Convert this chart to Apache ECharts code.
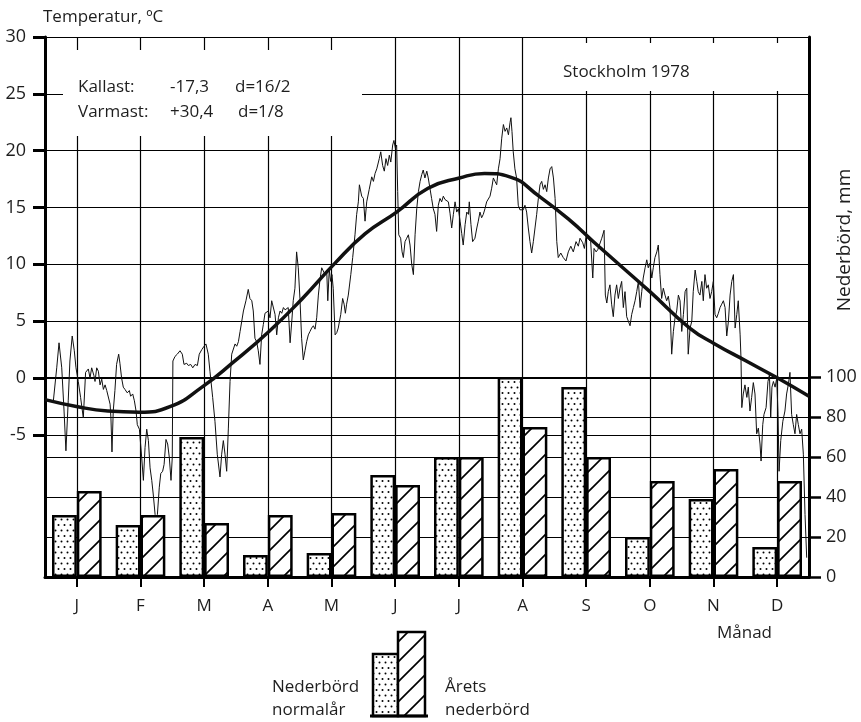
<!DOCTYPE html>
<html>
<head>
<meta charset="utf-8">
<script src="https://cdn.jsdelivr.net/npm/echarts@6/dist/echarts.min.js"></script>
<style>
html,body{margin:0;padding:0;background:#fff}
#chart{width:861px;height:722px}
</style>
</head>
<body>
<div id="chart"></div>
<script>
// månader och nederbörd (mm)
const manader = ['J','F','M','A','M','J','J','A','S','O','N','D'];
const normalNederbord = [31, 26, 70, 11, 12, 51, 60, 100, 95, 20, 39, 15];
const aretsNederbord = [43, 31, 27, 31, 32, 46, 60, 75, 60, 48, 54, 48];

// axlarnas markeringar
const tempTicks = [-5, 0, 5, 10, 15, 20, 25, 30];
const nedTicks = [0, 20, 40, 60, 80, 100];
const manadsMitt = [15.2, 45.6, 76.0, 106.5, 136.9, 167.3, 197.7, 228.1, 258.5, 289.0, 319.4, 349.8];

// normal temperatur [dag, °C]
const normalTemp = [
  [0,-1.9],[15,-2.5],[30,-2.9],[45,-3.0],[60,-2.5],[75,-0.8],[90,1.4],[107,4.1],
  [123,7.0],[138,10.0],[153,12.7],[168,14.6],[183,16.7],[198,17.6],[210,18.0],[222,17.7],
  [236,16.0],[250,14.0],[265,11.5],[289,7.6],[308,4.4],[320,3.0],[335,1.5],[350,0.0],[365,-1.6]
];

// dygnsmedeltemperatur 1978 [dag, °C]
const dygnTemp = [
  [0.8,-1.9],[4.0,-2.0],[5.6,0.9],[6.7,3.1],[8.0,0.9],[9.1,-2.9],[10.0,-6.4],[11.1,-2.0],[11.9,1.5],[13.0,3.7],
  [14.0,2.4],[14.8,0.9],[15.9,-0.3],[17.0,-1.7],[18.3,-3.5],[19.4,0.5],[20.7,0.8],[21.5,0.0],[22.3,0.9],[23.4,0.2],
  [23.9,-0.3],[24.7,0.9],[25.5,0.6],[26.3,-0.6],[27.1,-0.1],[27.9,-1.0],[28.7,-0.6],[29.5,-1.1],[30.3,-1.0],[31.1,-2.3],
  [31.5,-3.5],[32.0,-6.5],[32.6,-2.9],[33.4,-1.1],[34.2,1.2],[35.2,2.1],[35.8,1.3],[36.6,0.0],[37.4,-0.8],[38.2,-1.0],
  [39.3,-1.3],[40.3,-1.1],[40.9,-1.6],[41.9,-1.4],[42.7,-2.0],[43.5,-2.9],[44.1,-4.1],[45.1,-4.5],[46.2,-7.0],[47.0,-9.0],
  [47.8,-6.1],[48.6,-4.5],[49.4,-5.5],[50.2,-7.9],[51.0,-9.0],[51.7,-10.2],[52.6,-12.0],[53.1,-14.5],[53.7,-12.0],[54.6,-9.6],
  [55.3,-8.4],[56.2,-8.2],[56.9,-7.6],[57.8,-5.4],[58.6,-5.8],[59.4,-7.0],[60.2,-9.0],[60.8,-7.0],[61.1,1.5],[62.1,1.9],
  [63.2,2.1],[64.5,2.4],[65.6,2.1],[66.4,1.2],[67.7,1.3],[68.5,1.1],[69.6,1.2],[70.6,0.9],[71.7,1.2],[72.8,1.1],
  [73.7,2.1],[74.9,2.5],[76.0,2.8],[76.9,3.0],[78.0,2.1],[78.8,0.6],[80.1,-1.7],[81.2,-3.8],[82.3,-6.7],[83.6,-8.7],
  [84.4,-6.7],[85.2,-5.5],[86.0,-6.7],[86.8,-8.2],[87.6,-4.4],[88.4,-0.3],[89.2,2.1],[90.0,2.2],[90.8,3.0],[91.6,2.8],
  [92.4,3.2],[93.2,4.1],[94.0,5.0],[94.8,5.9],[96.0,6.8],[97.1,7.8],[97.9,7.0],[98.8,6.8],[99.5,5.9],[100.3,3.5],
  [101.1,3.2],[101.9,2.4],[102.7,1.2],[103.5,3.8],[104.3,4.7],[105.1,5.7],[105.9,5.6],[106.7,5.9],[107.5,5.3],[108.3,6.8],
  [109.1,6.9],[109.9,5.6],[110.7,3.8],[111.5,5.3],[112.3,5.9],[113.1,5.7],[113.9,6.2],[114.7,6.0],[115.5,6.0],[116.2,6.2],
  [117.1,3.1],[117.9,5.0],[118.6,6.8],[119.4,7.9],[120.2,11.1],[121.0,9.7],[121.8,7.0],[122.6,3.5],[123.4,1.6],[124.2,2.4],
  [125.0,3.2],[125.8,3.8],[126.6,4.1],[127.4,4.4],[128.2,4.6],[129.0,4.3],[129.8,5.3],[130.6,7.3],[131.4,8.7],[132.2,9.7],
  [133.0,9.6],[133.8,9.1],[134.6,9.4],[135.1,6.8],[135.8,9.5],[136.5,8.5],[137.1,9.1],[137.7,7.9],[138.6,3.8],[139.4,4.0],
  [140.1,4.4],[141.3,5.6],[142.2,7.0],[142.9,6.5],[143.5,5.7],[144.1,6.5],[144.9,7.3],[146.1,9.1],[147.0,10.6],[148.1,12.6],
  [148.9,14.4],[149.7,15.5],[150.2,17.0],[151.3,16.0],[152.1,15.8],[152.9,13.8],[153.7,15.5],[154.9,16.6],[156.1,17.7],[156.9,17.3],
  [157.7,18.0],[158.5,18.4],[159.7,19.3],[160.4,19.9],[161.3,18.7],[162.1,18.2],[162.9,19.3],[163.7,18.7],[164.5,19.6],[165.2,19.0],
  [166.1,20.5],[166.7,20.9],[167.4,20.2],[168.0,20.5],[168.5,16.4],[169.0,12.6],[169.9,12.3],[170.6,11.1],[171.2,10.6],[172.0,12.0],
  [172.8,12.3],[173.6,12.6],[174.4,11.7],[175.2,10.0],[176.0,9.1],[176.8,12.6],[177.6,14.9],[178.4,16.4],[179.2,17.3],[180.0,17.9],
  [180.7,18.3],[181.5,17.6],[182.4,18.2],[183.1,17.6],[183.9,16.7],[184.7,15.8],[185.5,14.9],[186.3,14.4],[187.1,12.9],[187.9,15.2],
  [188.7,15.8],[189.5,15.5],[190.3,16.0],[191.1,15.7],[191.9,15.8],[192.7,15.5],[193.5,14.5],[194.3,13.2],[195.1,14.4],[195.9,15.5],
  [196.7,14.6],[197.5,14.9],[198.3,13.8],[199.1,12.7],[199.8,11.7],[200.7,13.5],[201.5,14.6],[202.3,14.4],[202.7,15.5],[203.5,13.5],
  [204.3,12.0],[205.0,11.9],[205.4,12.3],[206.3,13.2],[207.0,13.8],[207.8,14.6],[208.6,14.1],[209.4,14.4],[210.2,14.9],[211.0,15.5],
  [211.8,15.6],[212.6,16.0],[213.4,16.7],[214.2,17.6],[215.0,17.3],[215.8,17.0],[216.6,18.4],[217.4,19.3],[218.2,21.1],[219.0,22.3],
  [219.8,21.7],[220.6,22.0],[221.4,21.4],[222.2,22.5],[222.6,22.9],[223.1,21.7],[223.7,19.9],[224.5,18.4],[225.3,17.6],[226.1,15.2],
  [226.9,14.8],[227.7,14.9],[228.5,14.8],[229.3,15.2],[230.1,14.6],[230.9,13.2],[231.7,12.0],[232.5,11.0],[233.3,12.0],[234.1,13.2],
  [234.9,14.4],[235.7,15.8],[236.5,17.0],[237.3,17.3],[238.1,16.6],[238.9,17.0],[239.7,16.4],[240.5,17.6],[241.3,18.4],[242.1,18.6],
  [242.9,17.6],[243.7,15.8],[244.5,12.0],[245.2,10.6],[246.4,11.0],[247.6,10.6],[248.9,10.3],[250.0,11.1],[251.2,11.6],[252.4,11.1],
  [253.7,12.0],[254.8,11.6],[255.6,12.3],[256.9,11.9],[257.7,11.4],[258.5,12.5],[259.6,12.2],[260.7,12.0],[261.7,8.8],[262.3,11.4],
  [263.3,11.1],[264.1,11.3],[264.8,11.3],[266.0,12.3],[267.1,13.0],[267.7,7.3],[268.4,6.6],[269.1,7.6],[269.9,8.2],[270.7,6.5],
  [271.5,5.4],[272.3,7.3],[273.1,8.2],[273.9,7.0],[274.7,7.9],[275.5,8.5],[276.3,6.2],[277.1,7.6],[277.9,5.4],[278.7,5.0],
  [279.5,4.6],[280.3,5.6],[281.1,6.2],[281.9,6.8],[282.7,7.6],[283.5,8.5],[284.3,6.2],[285.1,7.6],[285.8,8.8],[286.7,9.7],
  [287.5,10.4],[288.2,9.7],[289.0,10.1],[289.9,8.8],[290.6,9.7],[291.4,10.6],[292.3,11.1],[293.0,11.7],[293.8,9.1],[294.6,7.0],
  [295.4,7.9],[296.2,7.3],[297.0,6.8],[297.8,7.2],[298.6,6.2],[299.4,2.1],[300.2,4.1],[301.0,5.3],[301.8,5.9],[302.6,7.3],
  [303.4,6.8],[304.2,4.1],[305.0,5.6],[305.8,7.6],[306.6,7.9],[307.3,2.1],[308.2,4.4],[309.0,5.0],[309.7,7.6],[310.6,9.5],
  [311.4,8.5],[312.1,7.6],[312.9,7.3],[313.8,8.5],[314.5,6.8],[315.3,9.1],[316.1,7.9],[316.9,8.2],[317.7,7.0],[318.5,7.6],
  [319.3,8.5],[320.1,5.6],[320.9,5.3],[321.7,5.7],[322.5,6.2],[323.3,6.5],[324.1,6.8],[324.9,6.2],[325.7,3.7],[326.5,5.0],
  [327.3,7.3],[328.1,8.5],[328.9,9.1],[329.7,4.4],[330.5,5.6],[331.2,6.8],[332.1,3.8],[332.5,1.8],[332.9,-2.6],[333.6,-1.4],
  [334.4,-0.6],[335.3,-1.7],[336.0,-0.8],[336.8,-2.9],[337.6,-1.7],[338.4,-0.4],[339.2,-1.4],[340.0,-4.9],[340.8,-4.4],[341.6,-5.8],
  [342.1,-7.3],[342.9,-4.1],[343.5,-3.2],[344.5,-2.6],[345.4,-0.3],[346.1,0.3],[346.7,-3.5],[347.3,-0.8],[348.0,-0.3],[348.8,-0.8],
  [349.6,0.0],[350.2,-3.2],[350.7,-8.2],[351.5,-5.5],[352.5,-3.8],[353.5,-2.9],[354.3,-1.4],[355.1,-0.6],[355.9,0.5],[356.7,-3.2],
  [357.5,-4.1],[358.3,-4.9],[359.1,-3.2],[359.9,-4.1],[360.7,-4.9],[361.5,-4.5],[362.3,-6.7],[363.1,-12.0],[363.9,-15.8]
];

const FONT = "'Open Sans', 'Noto Sans', sans-serif";
const INK = '#1e1e1e';

// mönster för staplarna
function dotPattern(){
    let c = document.createElement('canvas');
    c.width = 6; c.height = 11;
    let g = c.getContext('2d');
    g.fillStyle = '#fff';
    g.fillRect(0, 0, 6, 11);
    g.fillStyle = '#000';
    [[1.5, 2.5], [4.5, 8]].forEach(p => {
        g.beginPath();
        g.arc(p[0], p[1], 1.0, 0, Math.PI * 2);
        g.fill();
    });
    return {image: c, repeat: 'repeat'};
}
function hatchPattern(){
    let s = 20;
    let c = document.createElement('canvas');
    c.width = s; c.height = s;
    let g = c.getContext('2d');
    g.fillStyle = '#fff';
    g.fillRect(0, 0, s, s);
    g.strokeStyle = '#000';
    g.lineWidth = 1.7;
    [[-2, s + 2, s + 2, -2], [-2, 2, 2, -2], [s - 2, s + 2, s + 2, s - 2]].forEach(l => {
        g.beginPath();
        g.moveTo(l[0], l[1]);
        g.lineTo(l[2], l[3]);
        g.stroke();
    });
    return {image: c, repeat: 'repeat'};
}
const dots = dotPattern();
const hatch = hatchPattern();

function txt(text, x, y, size){
    return {
        type: 'text', x: x, y: y, z: 20,
        style: {text: text, fill: INK, fontSize: size || 17, fontFamily: FONT, verticalAlign: 'middle'}
    };
}

let myChart = echarts.init(document.getElementById('chart'));

myChart.setOption({
    animation: false,
    backgroundColor: '#fff',
    grid: {left: 45, right: 52, top: 37, bottom: 145},
    xAxis: [
        {
            type: 'category',
            data: manader,
            position: 'bottom',
            axisLine: {show: false, onZero: false},
            axisTick: {show: false},
            axisLabel: {margin: 21, fontSize: 17, color: INK, fontFamily: FONT},
            splitLine: {show: false}
        },
        {
            type: 'value',
            min: 0, max: 365,
            position: 'bottom',
            axisLine: {show: true, onZero: false, lineStyle: {color: '#000', width: 3}},
            axisTick: {show: true, customValues: manadsMitt, length: 10, lineStyle: {color: '#000', width: 2}},
            axisLabel: {show: false},
            splitLine: {show: true, lineStyle: {color: '#000', width: 1.2}}
        }
    ],
    yAxis: [
        {
            type: 'value',
            min: -17.5, max: 30,
            position: 'left',
            axisLine: {show: true, onZero: false, lineStyle: {color: '#000', width: 3}},
            axisTick: {show: true, customValues: tempTicks, length: 12, lineStyle: {color: '#000', width: 3}},
            axisLabel: {customValues: tempTicks, margin: 19, fontSize: 18, color: INK, fontFamily: FONT},
            splitLine: {show: true, lineStyle: {color: '#000', width: 1.2}}
        },
        {
            type: 'value',
            min: 0, max: 270,
            position: 'right',
            axisLine: {show: true, onZero: false, lineStyle: {color: '#000', width: 3}},
            axisTick: {show: true, customValues: nedTicks, length: 12, lineStyle: {color: '#000', width: 2.5}},
            axisLabel: {customValues: nedTicks, margin: 17, fontSize: 18, color: INK, fontFamily: FONT},
            splitLine: {show: true, lineStyle: {color: '#000', width: 1.2}}
        }
    ],
    series: [
        {
            name: 'Dygnstemperatur',
            type: 'line',
            xAxisIndex: 1, yAxisIndex: 0,
            data: dygnTemp,
            symbol: 'none',
            lineStyle: {color: '#111', width: 1},
            z: 2
        },
        {
            name: 'Nederbörd normalår',
            type: 'bar',
            xAxisIndex: 0, yAxisIndex: 1,
            data: normalNederbord,
            barGap: '0%',
            barCategoryGap: '22%',
            itemStyle: {color: dots, borderColor: '#000', borderWidth: 2.5},
            z: 3
        },
        {
            name: 'Årets nederbörd',
            type: 'bar',
            xAxisIndex: 0, yAxisIndex: 1,
            data: aretsNederbord,
            barGap: '0%',
            barCategoryGap: '22%',
            itemStyle: {color: hatch, borderColor: '#000', borderWidth: 2.5},
            z: 3
        },
        {
            name: 'Normaltemperatur',
            type: 'line',
            xAxisIndex: 1, yAxisIndex: 0,
            data: normalTemp,
            smooth: 0.5,
            symbol: 'none',
            lineStyle: {color: '#111', width: 3.5},
            z: 4
        }
    ],
    graphic: [
        // vita rutor för texterna
        {type: 'rect', z: 10, shape: {x: 63, y: 50, width: 299, height: 86}, style: {fill: '#fff'}},
        {type: 'rect', z: 10, shape: {x: 525, y: 43, width: 282, height: 48}, style: {fill: '#fff'}},
        txt('Temperatur, ºC', 43, 17),
        txt('Kallast:', 78, 87),
        txt('-17,3', 170, 87),
        txt('d=16/2', 235, 87),
        txt('Varmast:', 78, 112),
        txt('+30,4', 170, 112),
        txt('d=1/8', 238, 112),
        txt('Stockholm 1978', 563, 72),
        txt('Månad', 717, 633),
        {
            type: 'text', x: 845, y: 240, z: 20, rotation: Math.PI / 2,
            style: {text: 'Nederbörd, mm', fill: INK, fontSize: 19, fontFamily: FONT, align: 'center', verticalAlign: 'middle'}
        },
        // teckenförklaring
        {type: 'rect', z: 20, shape: {x: 373, y: 654, width: 25, height: 62}, style: {fill: dots, stroke: '#000', lineWidth: 2.5}},
        {type: 'rect', z: 20, shape: {x: 398, y: 632, width: 27, height: 84}, style: {fill: hatch, stroke: '#000', lineWidth: 2.5}},
        {type: 'line', z: 21, shape: {x1: 370, y1: 716, x2: 428, y2: 716}, style: {stroke: '#000', lineWidth: 3}},
        txt('Nederbörd', 272, 687),
        txt('normalår', 272, 710),
        txt('Årets', 445, 687),
        txt('nederbörd', 445, 710)
    ]
});
</script>
</body>
</html>
